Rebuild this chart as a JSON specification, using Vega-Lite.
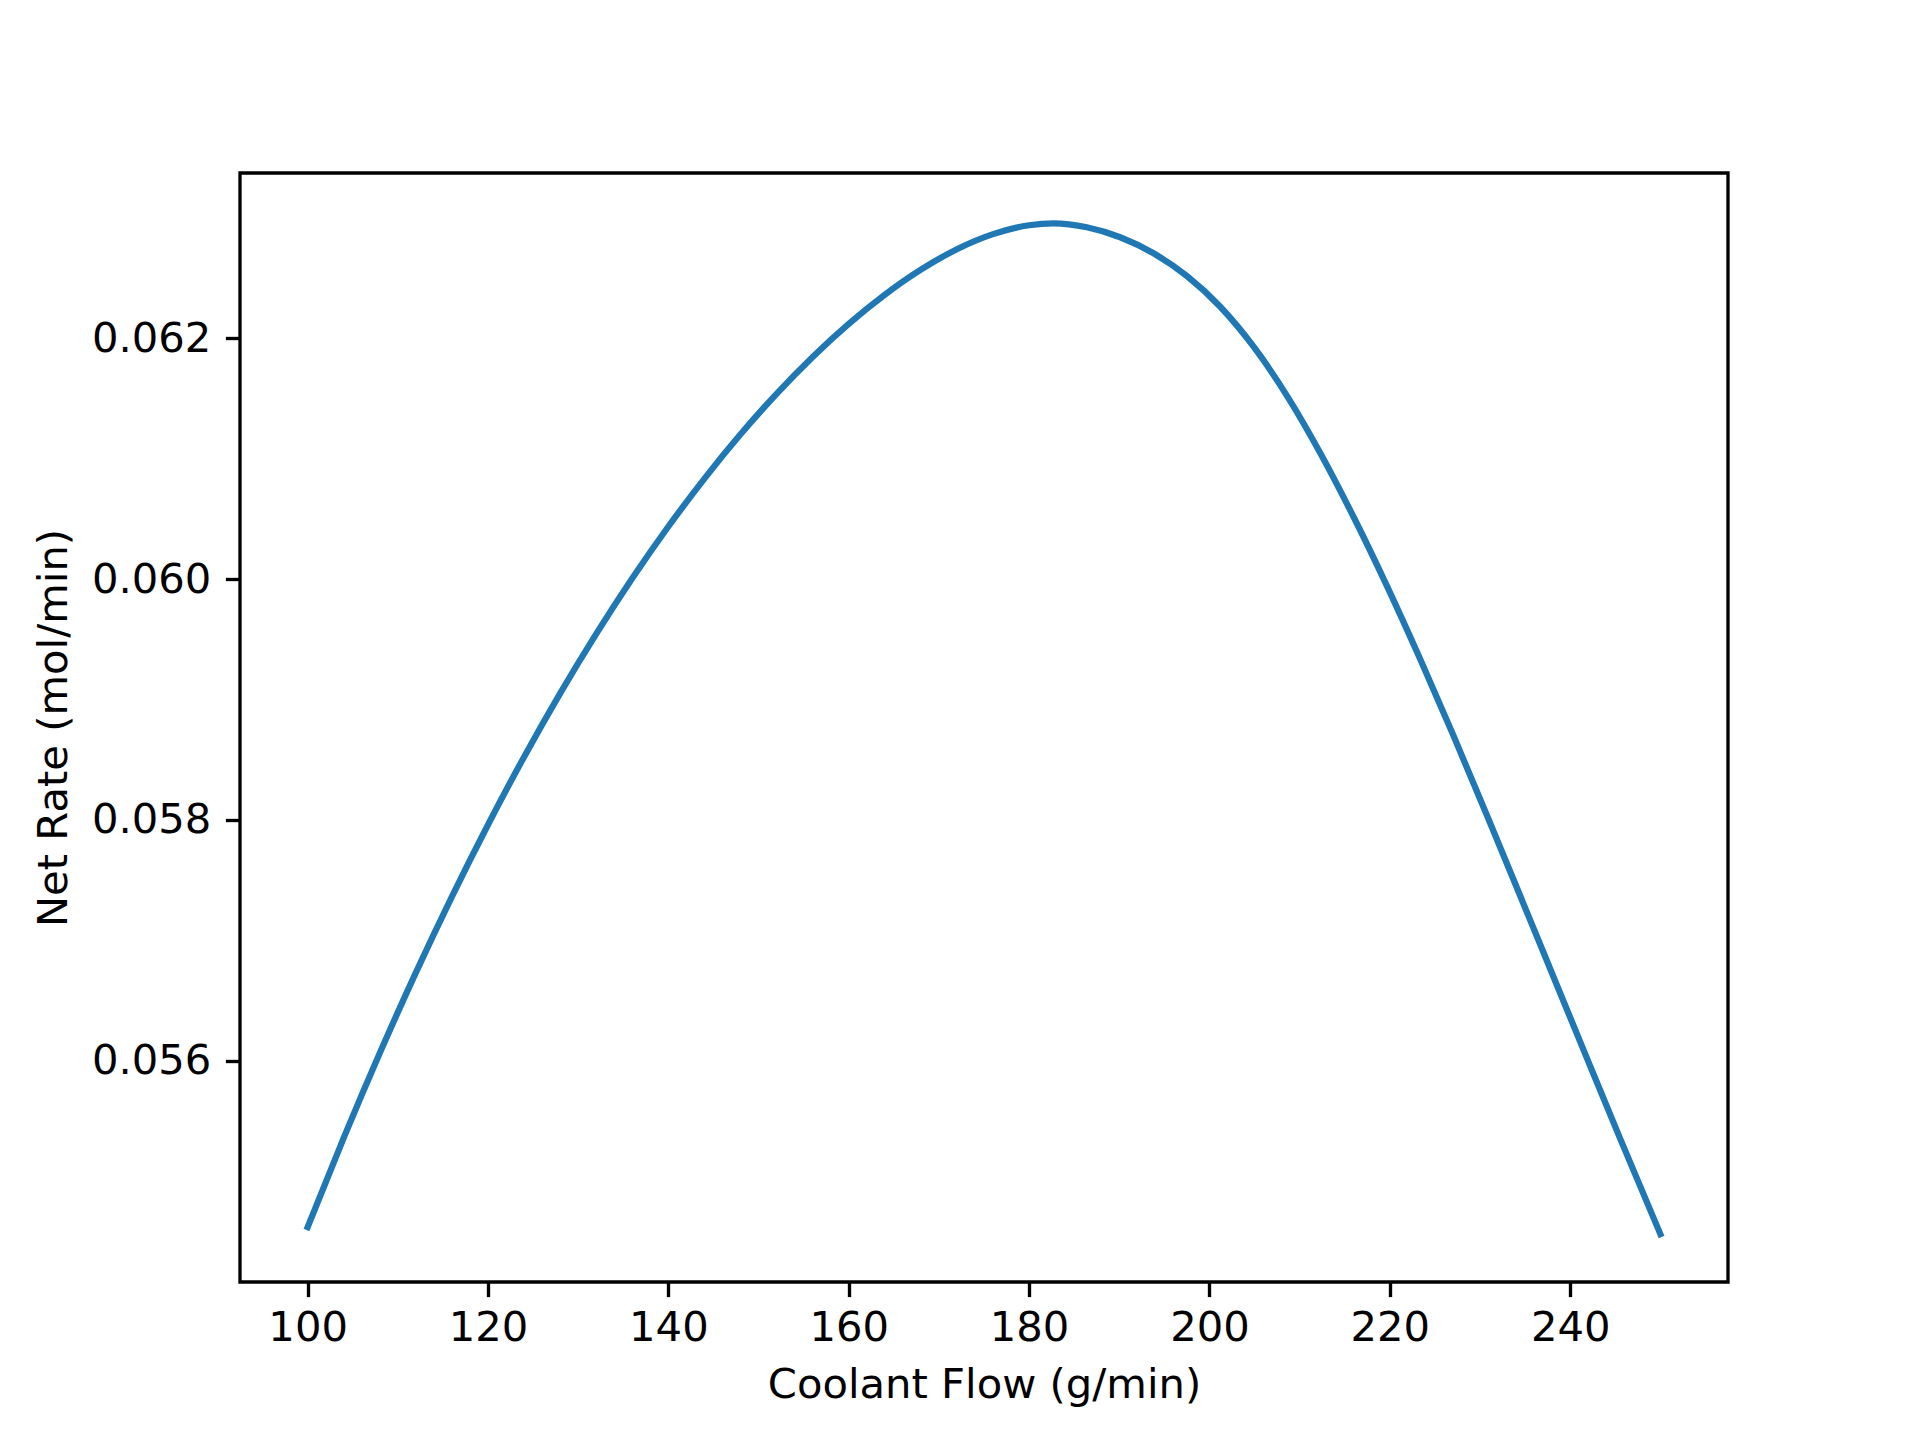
{
  "$schema": "https://vega.github.io/schema/vega-lite/v6.json",
  "width": 1488,
  "height": 1109,
  "autosize": {"type": "none"},
  "padding": {"left": 240, "top": 173, "right": 192, "bottom": 158},
  "background": "white",
  "config": {
    "view": {"stroke": "black", "strokeWidth": 3.33},
    "font": "DejaVu Sans",
    "axis": {
      "labelFont": "DejaVu Sans",
      "titleFont": "DejaVu Sans",
      "labelFontSize": 41.7,
      "titleFontSize": 41.7,
      "titleFontWeight": "normal",
      "labelColor": "black",
      "titleColor": "black",
      "tickColor": "black",
      "tickWidth": 3.33,
      "tickSize": 14.6,
      "labelPadding": 14.6,
      "domain": false,
      "grid": false
    }
  },
  "data": {
    "values": [
      {"flow": 100, "rate": 0.054616},
      {"flow": 104, "rate": 0.055357},
      {"flow": 108, "rate": 0.056062},
      {"flow": 112, "rate": 0.05673},
      {"flow": 116, "rate": 0.057362},
      {"flow": 120, "rate": 0.057959},
      {"flow": 124, "rate": 0.058522},
      {"flow": 128, "rate": 0.05905},
      {"flow": 132, "rate": 0.059544},
      {"flow": 136, "rate": 0.060006},
      {"flow": 140, "rate": 0.060436},
      {"flow": 144, "rate": 0.060834},
      {"flow": 148, "rate": 0.061202},
      {"flow": 152, "rate": 0.061539},
      {"flow": 156, "rate": 0.061845},
      {"flow": 160, "rate": 0.06212},
      {"flow": 164, "rate": 0.062362},
      {"flow": 168, "rate": 0.06257},
      {"flow": 172, "rate": 0.06274},
      {"flow": 176, "rate": 0.062865},
      {"flow": 180, "rate": 0.062939},
      {"flow": 182.7, "rate": 0.062955},
      {"flow": 186.4, "rate": 0.062922},
      {"flow": 190.1, "rate": 0.062839},
      {"flow": 193.8, "rate": 0.062706},
      {"flow": 197.5, "rate": 0.062517},
      {"flow": 201.2, "rate": 0.062262},
      {"flow": 204.9, "rate": 0.06193},
      {"flow": 208.6, "rate": 0.061522},
      {"flow": 212.3, "rate": 0.061045},
      {"flow": 216.0, "rate": 0.060513},
      {"flow": 219.7, "rate": 0.059939},
      {"flow": 223.4, "rate": 0.059329},
      {"flow": 227.1, "rate": 0.058691},
      {"flow": 230.8, "rate": 0.058031},
      {"flow": 234.5, "rate": 0.05736},
      {"flow": 238.2, "rate": 0.056686},
      {"flow": 241.9, "rate": 0.056012},
      {"flow": 245.6, "rate": 0.055341},
      {"flow": 250, "rate": 0.054558}
    ]
  },
  "mark": {"type": "line", "color": "#1f77b4", "strokeWidth": 6.25, "interpolate": "monotone", "strokeCap": "square"},
  "encoding": {
    "x": {
      "field": "flow",
      "type": "quantitative",
      "scale": {"domain": [92.5, 257.5], "nice": false, "zero": false},
      "axis": {"title": "Coolant Flow (g/min)", "values": [100, 120, 140, 160, 180, 200, 220, 240], "labelPadding": 10.6, "titlePadding": 16}
    },
    "y": {
      "field": "rate",
      "type": "quantitative",
      "scale": {"domain": [0.05416, 0.063373], "nice": false, "zero": false},
      "axis": {"title": "Net Rate (mol/min)", "values": [0.056, 0.058, 0.06, 0.062], "format": ".3f", "titlePadding": 16}
    }
  }
}
